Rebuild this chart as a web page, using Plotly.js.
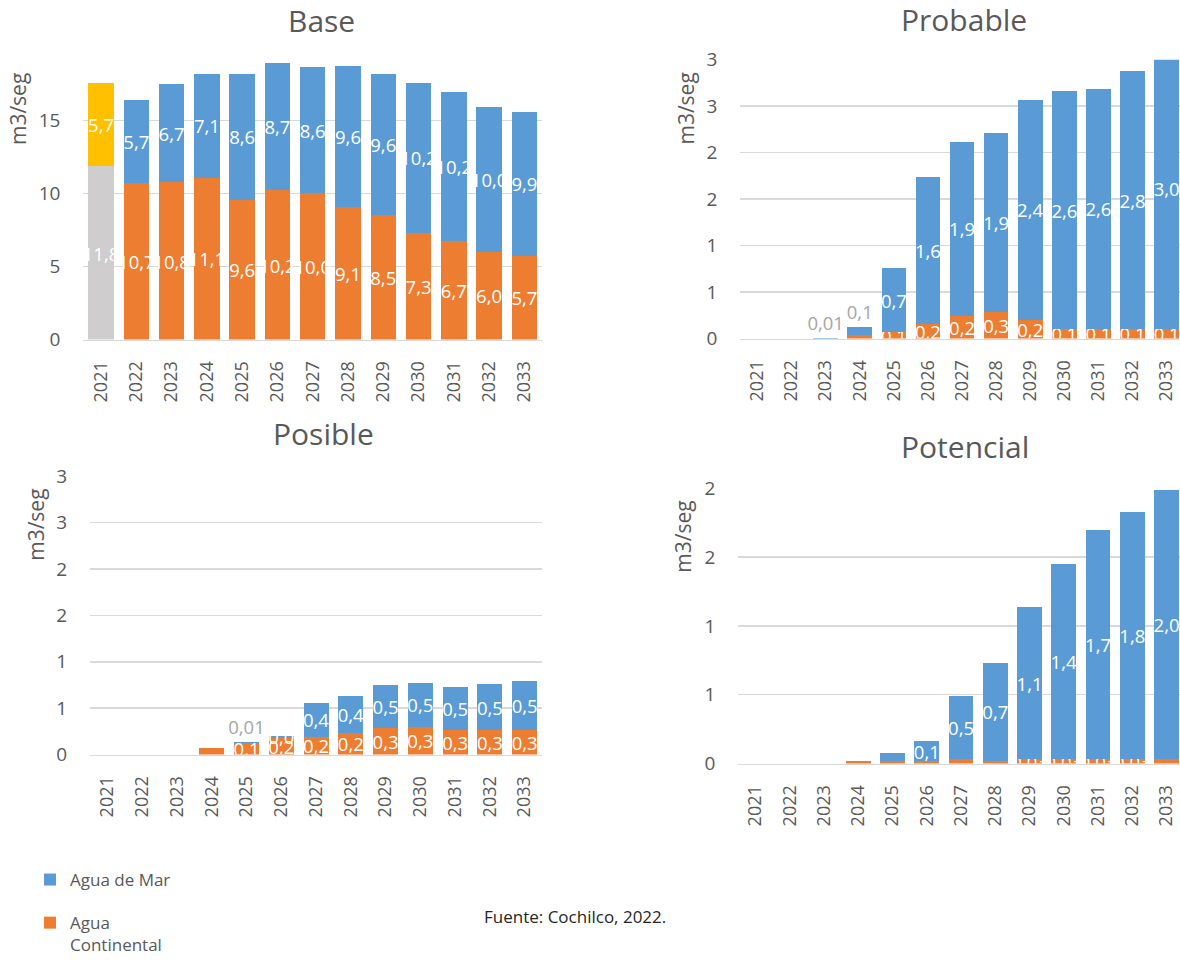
<!DOCTYPE html>
<html>
<head>
<meta charset="utf-8">
<script src="https://cdn.plot.ly/plotly-3.0.1.min.js"></script>
<style>
  html, body { margin: 0; padding: 0; background: #ffffff; }
  #chart { width: 1180px; height: 963px; }
</style>
</head>
<body>
<div id="chart"></div>
<script>
// Demanda de agua por escenario (m3/seg), 2021-2033
const years = ['2021','2022','2023','2024','2025','2026','2027','2028','2029','2030','2031','2032','2033'];

const baseContinental = [11.84, 10.68, 10.75, 11.06, 9.56, 10.20, 10.02, 9.09, 8.54, 7.32, 6.71, 5.98, 5.74];
const baseMar         = [5.74, 5.71, 6.71, 7.10, 8.64, 8.72, 8.60, 9.60, 9.60, 10.23, 10.23, 9.96, 9.86];

const probContinental = [0, 0, 0, 0.04, 0.07, 0.16, 0.24, 0.29, 0.20, 0.10, 0.10, 0.10, 0.10];
const probMar         = [0, 0, 0.01, 0.09, 0.69, 1.58, 1.88, 1.92, 2.37, 2.56, 2.59, 2.78, 3.02];

const posContinental  = [0, 0, 0, 0.07, 0.12, 0.18, 0.19, 0.23, 0.29, 0.30, 0.26, 0.26, 0.27];
const posMar          = [0, 0, 0, 0, 0.01, 0.02, 0.37, 0.40, 0.46, 0.47, 0.47, 0.50, 0.52];

const potContinental  = [0, 0, 0, 0.02, 0.02, 0.02, 0.03, 0.02, 0.03, 0.03, 0.03, 0.03, 0.03];
const potMar          = [0, 0, 0, 0, 0.06, 0.14, 0.46, 0.71, 1.11, 1.42, 1.67, 1.80, 1.96];

const seriesNames = { mar: 'Agua de Mar', cont: 'Agua<br>Continental' };
const chartTitles = ['Base', 'Probable', 'Posible', 'Potencial'];

// ---- styling ----
const FONT = 'Open Sans, Noto Sans, sans-serif';
const BLUE = '#5B9BD5', ORANGE = '#ED7D31', GREY = '#CFCDCD', YELLOW = '#FFC000';
const TEXT = '#595959', GRID = '#D9D9D9', LABEL_GREY = '#A6A6A6';
const W = 1180, H = 963;

// which data labels are shown (number format) and which sit above the bar
const L1 = '.1f', L2 = '.2f', NO = '';
const charts = [
  { cont: baseContinental, mar: baseMar,
    contFmt: years.map(() => L1), marFmt: years.map(() => L1), marOutside: [],
    contColors: years.map((y, i) => i === 0 ? GREY : ORANGE),
    marColors: years.map((y, i) => i === 0 ? YELLOW : BLUE),
    px: [83.4, 542], py: [52, 341], yRange: [0, 289 / 14.68], dtick: 5, xEnd: 12.5 },
  { cont: probContinental, mar: probMar,
    contFmt: [NO, NO, NO, NO, L1, L1, L1, L1, L1, L1, L1, L1, L1],
    marFmt: [NO, NO, L2, L1, L1, L1, L1, L1, L1, L1, L1, L1, L1], marOutside: [2, 3],
    px: [740.4, W], py: [60, 340], yRange: [0, 3], dtick: 0.5, xEnd: -0.5 + (W - 740.4) / 34.1 },
  { cont: posContinental, mar: posMar,
    contFmt: [NO, NO, NO, NO, L1, L1, L1, L1, L1, L1, L1, L1, L1],
    marFmt: [NO, NO, NO, NO, L2, L1, L1, L1, L1, L1, L1, L1, L1], marOutside: [4],
    px: [90.1, 542], py: [478.3, 757.7], yRange: [0, 3], dtick: 0.5, xEnd: 12.5 },
  { cont: potContinental, mar: potMar,
    contFmt: [NO, NO, NO, NO, NO, NO, NO, NO, L2, L2, L2, L2, NO],
    marFmt: [NO, NO, NO, NO, NO, L1, L1, L1, L1, L1, L1, L1, L1], marOutside: [],
    px: [738.4, W], py: [490.3, 766.7], yRange: [0, 2], dtick: 0.5, xEnd: -0.5 + (W - 738.4) / 34.25 }
];

const tmpl = fmts => fmts.map(f => f ? '%{y:' + f + '}' : '');

const data = [];
const layout = {
  width: W, height: H,
  margin: { l: 0, r: 0, t: 0, b: 0 },
  paper_bgcolor: '#ffffff', plot_bgcolor: '#ffffff',
  barmode: 'stack', bargap: 0.28,
  separators: ',.',
  font: { family: FONT, color: TEXT },
  showlegend: true,
  legend: {
    x: 30 / W, xanchor: 'left', y: 1 - 866 / H, yanchor: 'top',
    font: { family: FONT, size: 17, color: TEXT },
    tracegroupgap: 18, valign: 'top', bgcolor: 'rgba(0,0,0,0)'
  },
  annotations: [],
  hovermode: false
};

charts.forEach((c, k) => {
  const sfx = k === 0 ? '' : String(k + 1);
  const xa = 'x' + sfx, ya = 'y' + sfx;
  const withLegend = k === 1;
  const marOut = years.map((y, i) => c.marOutside.includes(i));

  data.push({
    type: 'bar', name: seriesNames.cont, x: years, y: c.cont, xaxis: xa, yaxis: ya,
    marker: { color: c.contColors || ORANGE },
    texttemplate: tmpl(c.contFmt), textposition: 'inside', insidetextanchor: 'middle',
    textangle: 0, constraintext: 'none', cliponaxis: true,
    textfont: { family: FONT, size: 18.5, color: '#ffffff' },
    showlegend: withLegend, legendgroup: 'cont', legendrank: 2
  });
  data.push({
    type: 'bar', name: seriesNames.mar, x: years, y: c.mar, xaxis: xa, yaxis: ya,
    marker: { color: c.marColors || BLUE },
    texttemplate: tmpl(c.marFmt),
    textposition: marOut.map(o => o ? 'outside' : 'inside'), insidetextanchor: 'middle',
    textangle: 0, constraintext: 'none', cliponaxis: true,
    textfont: { family: FONT, size: 18.5, color: marOut.map(o => o ? LABEL_GREY : '#ffffff') },
    showlegend: withLegend, legendgroup: 'mar', legendrank: 1
  });

  layout['xaxis' + sfx] = {
    type: 'category', anchor: ya,
    domain: [c.px[0] / W, c.px[1] / W], range: [-0.5, c.xEnd],
    tickangle: -90, ticks: '', showgrid: false, zeroline: false,
    showline: true, linecolor: GRID, linewidth: 1.5,
    tickfont: { family: FONT, size: 18, color: TEXT },
    ticklabelstandoff: 13, automargin: false, fixedrange: true
  };
  layout['yaxis' + sfx] = {
    anchor: xa,
    domain: [1 - c.py[1] / H, 1 - c.py[0] / H], range: c.yRange,
    dtick: c.dtick, tick0: 0, tickformat: '.0f',
    showgrid: true, gridcolor: GRID, gridwidth: 1.5, zeroline: false,
    showline: false, ticks: '',
    tickfont: { family: FONT, size: 19, color: TEXT },
    ticklabelstandoff: 22, automargin: false, fixedrange: true
  };
});

// chart titles
const titlePos = [[322, 21], [964, 20], [323, 435], [965, 448]];
titlePos.forEach((p, k) => {
  layout.annotations.push({
    text: chartTitles[k], xref: 'paper', yref: 'paper',
    x: p[0] / W, y: 1 - p[1] / H, xanchor: 'center', yanchor: 'middle',
    showarrow: false, font: { family: FONT, size: 30, color: TEXT }
  });
});

// y-axis titles
const yTitlePos = [[17.5, 110], [686, 109], [36, 527], [683, 539]];
yTitlePos.forEach(p => {
  layout.annotations.push({
    text: 'm3/seg', xref: 'paper', yref: 'paper', textangle: -90,
    x: p[0] / W, y: 1 - p[1] / H, xanchor: 'center', yanchor: 'middle',
    showarrow: false, font: { family: FONT, size: 21, color: TEXT }
  });
});

// source note
layout.annotations.push({
  text: 'Fuente: Cochilco, 2022.', xref: 'paper', yref: 'paper',
  x: 482 / W, y: 1 - 920 / H, xanchor: 'left', yanchor: 'middle',
  showarrow: false, font: { family: FONT, size: 17, color: '#262626' }
});

Plotly.newPlot('chart', data, layout, { displayModeBar: false, staticPlot: true });
</script>
</body>
</html>
